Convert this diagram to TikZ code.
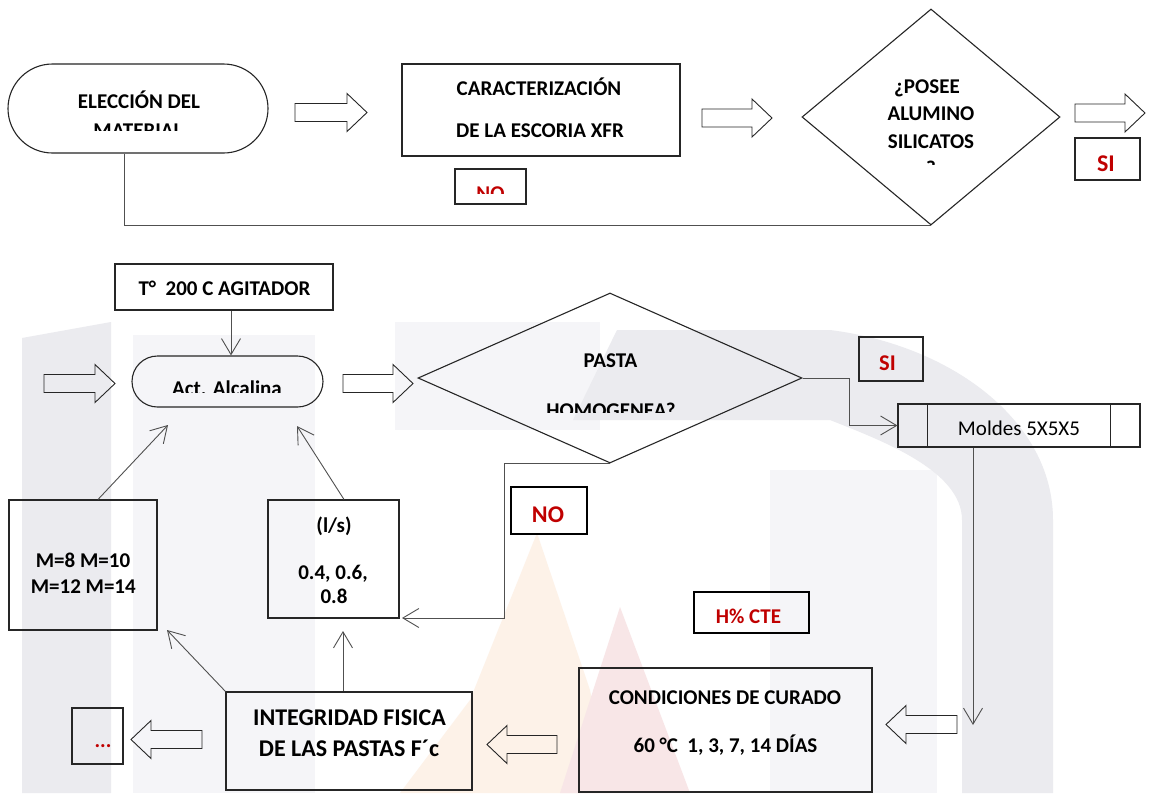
\documentclass[tikz,border=0pt]{standalone}
\usepackage{fontspec}
\setmainfont{Carlito}
\usetikzlibrary{arrows.meta,shapes.geometric}
\definecolor{wmA}{HTML}{EBEBEF}
\definecolor{wmB}{HTML}{F5F5F8}
\definecolor{wmO}{HTML}{FDF2E8}
\definecolor{wmP}{HTML}{F8E6E7}
\definecolor{lblred}{HTML}{C00000}
\definecolor{conncol}{HTML}{505050}
\tikzset{
 box/.style={draw=black!85, line width=1.1pt, inner sep=0pt},
 lblbox/.style={draw=black, line width=1.8pt, inner sep=0pt},
 txt/.style={anchor=base, inner sep=0pt, font=\bfseries\fontsize{21}{25}\selectfont},
 bigtxt/.style={anchor=base, inner sep=0pt, font=\bfseries\fontsize{24}{28}\selectfont},
 rtxt/.style={txt, text=lblred},
 rbigtxt/.style={bigtxt, text=lblred},
 ntxt/.style={anchor=base, inner sep=0pt, font=\fontsize{21}{25}\selectfont},
 conn/.style={draw=conncol, line width=0.9pt},
 arr/.style={conn, -{Straight Barb[length=16pt,width=19pt,line width=0.9pt]}},
 blk/.style={draw=black!85, line width=0.9pt},
}
\newcommand\barR[3]{\draw[blk] (#1,#3-9) -- (#2-20,#3-9) -- (#2-20,#3-19) -- (#2,#3) -- (#2-20,#3+19) -- (#2-20,#3+9) -- (#1,#3+9) -- cycle;}
\newcommand\barL[3]{\draw[blk] (#2,#3-9) -- (#1+20,#3-9) -- (#1+20,#3-19) -- (#1,#3) -- (#1+20,#3+19) -- (#1+20,#3+9) -- (#2,#3+9) -- cycle;}
\begin{document}
\begin{tikzpicture}[x=1pt,y=-1pt]
\useasboundingbox (0,0) rectangle (1149,793);
\fill[white] (0,0) rectangle (1149,793);
% watermark
\fill[wmB] (133,335) rectangle (315,793);
\fill[wmB] (770,470) rectangle (937,793);
\fill[wmB] (395,322) rectangle (600,430);
\fill[wmA] (22,793) -- (22,338) -- (111,322) -- (111,793) -- cycle;
\fill[wmA] (962,793) -- (962,520) .. controls (962,470) and (880,440) .. (830,420) -- (573,420) -- (617,330) -- (830,330) .. controls (950,345) and (1053,420) .. (1053,520) -- (1053,793) -- cycle;
\fill[wmO] (537,533) -- (590,690) -- (610,793) -- (400,793) -- (470,700) -- cycle;
\fill[wmP] (620,607) -- (690,793) -- (560,793) -- cycle;

% ---------- top row ----------
\node[box, rounded corners=44.5pt, minimum width=260pt, minimum height=89pt] (elec) at (138,108.5) {};
\node[txt] (elecT1) at (139,108.5) {ELECCIÓN DEL};
\begin{scope}
\clip (0,0) rectangle (1149,130);
\node[txt] (elecT2) at (138,137.5) {MATERIAL};
\end{scope}
\barR{295}{367}{112.5}

\node[box, minimum width=278pt, minimum height=92pt] (car) at (541,110) {};
\node[txt] (carT1) at (539,95) {CARACTERIZACIÓN};
\node[txt] (carT2) at (540,137.7) {DE LA ESCORIA XFR};

\node[box, minimum width=71pt, minimum height=35pt] (noTop) at (490.5,186.5) {};
\begin{scope}
\clip (0,0) rectangle (1149,193.5);
\node[rtxt] (noTopT) at (490.5,200.5) {NO};
\end{scope}
\barR{702}{772}{118}

\node[box, diamond, minimum width=258pt, minimum height=216pt] (dia1) at (931,117) {};
\node[txt] (dia1T1) at (927,93) {¿POSEE};
\node[txt] (dia1T2) at (931,120.5) {ALUMINO};
\node[txt] (dia1T3) at (931,148) {SILICATOS};
\begin{scope}
\clip (0,0) rectangle (1149,164.5);
\node[txt] (dia1T4) at (931,175.5) {?};
\end{scope}
\barR{1075}{1145}{113}
\node[box, minimum width=65pt, minimum height=42pt] (siTop) at (1107.5,159) {};
\node[rbigtxt] (siTopT) at (1106,171) {SI};

\draw[conn] ([xshift=-14pt]elec.south) |- (dia1.south);

% ---------- bottom part ----------
\node[box, minimum width=218pt, minimum height=46pt] (tbox) at (224,287) {};
\node[txt] (tboxT) at (224.5,295.7) {T°\ \ 200 C AGITADOR};

\node[box, rounded corners=25.5pt, minimum width=191pt, minimum height=51pt] (act) at (227.5,381.5) {};
\begin{scope}
\clip (0,0) rectangle (1149,392.7);
\node[txt] (actT) at (227,395) {Act. Alcalina};
\end{scope}
\draw[arr] ([xshift=7pt]tbox.south) -- ([xshift=3.5pt]act.north);
\barR{44}{115}{383.5}
\barR{343}{413}{383.5}

\node[box, diamond, minimum width=384pt, minimum height=170pt] (dia2) at (610,378) {};
\node[txt] (dia2T1) at (610.5,367.3) {PASTA};
\begin{scope}
\clip (0,0) rectangle (1149,412.3);
\node[txt] (dia2T2) at (611,417.5) {HOMOGENEA?};
\end{scope}

\node[box, minimum width=64pt, minimum height=44pt] (siMid) at (891,359) {};
\node[rtxt, font=\bfseries\fontsize{22.5}{26}\selectfont] (siMidT) at (887.5,370) {SI};

\node[box, minimum width=242pt, minimum height=43pt] (moldes) at (1019,425.5) {};
\draw[box] ([xshift=30pt]moldes.north west) -- ([xshift=30pt]moldes.south west);
\draw[box] ([xshift=-30pt]moldes.north east) -- ([xshift=-30pt]moldes.south east);
\node[ntxt] (moldesT) at (1019,435) {Moldes 5X5X5};
\draw[arr] (dia2.east) -- ++(47,0) |- (moldes.west);

\coordinate (mEnd) at (973,725);
\draw[arr] (moldes.south -| mEnd) -- (mEnd);

\node[lblbox, minimum width=76pt, minimum height=47pt] (noMid) at (549,510.5) {};
\node[rbigtxt] (noMidT) at (548,522) {NO};

\node[box, minimum width=148pt, minimum height=130pt] (mbox) at (83,565) {};
\node[txt] (mboxT1) at (83,567.3) {M=8 M=10};
\node[txt] (mboxT2) at (83.3,593.3) {M=12 M=14};

\node[box, minimum width=131pt, minimum height=118pt] (ls) at (333.5,559) {};
\node[txt] (lsT1) at (334,532) {(l/s)};
\node[txt] (lsT2) at (333,579) {0.4, 0.6,};
\node[txt] (lsT3) at (334,603.3) {0.8};

\coordinate (nbend) at (504,618);
\coordinate (lsIn) at (402,618);
\draw[arr] (dia2.south) -| (nbend) -- (lsIn);

\coordinate (a1) at (168,425);
\coordinate (a2) at (297,426);
\draw[arr] ([xshift=15pt]mbox.north) -- (a1);
\draw[arr] ([xshift=10.5pt]ls.north) -- (a2);

\node[lblbox, minimum width=115pt, minimum height=41pt] (hcte) at (751.5,612.5) {};
\node[rtxt] (hcteT) at (748.5,623.3) {H\% CTE};

\node[box, minimum width=293pt, minimum height=124pt] (cond) at (725.5,730) {};
\node[txt] (condT1) at (725,704.3) {CONDICIONES DE CURADO};
\node[txt] (condT2) at (725.5,752.7) {60 °C\ \ 1, 3, 7, 14 DÍAS};
\barL{886}{957}{724.5}

\node[box, minimum width=246pt, minimum height=98pt] (integ) at (349,741) {};
\node[bigtxt] (integT1) at (349.5,725.5) {INTEGRIDAD FISICA};
\node[bigtxt] (integT2) at (349,756) {DE LAS PASTAS F´c};
\barL{487}{557}{744.5}

\coordinate (lsBot) at (343,631);
\draw[arr] (integ.north -| lsBot) -- (lsBot);
\coordinate (mTip) at (167,630);
\draw[arr] (integ.north west) -- (mTip);

\node[box, minimum width=51pt, minimum height=56pt] (dots) at (97.5,736) {};
\node[rtxt] (dotsT) at (103,747) {...};
\barL{131}{202}{739.5}
\end{tikzpicture}
\end{document}
